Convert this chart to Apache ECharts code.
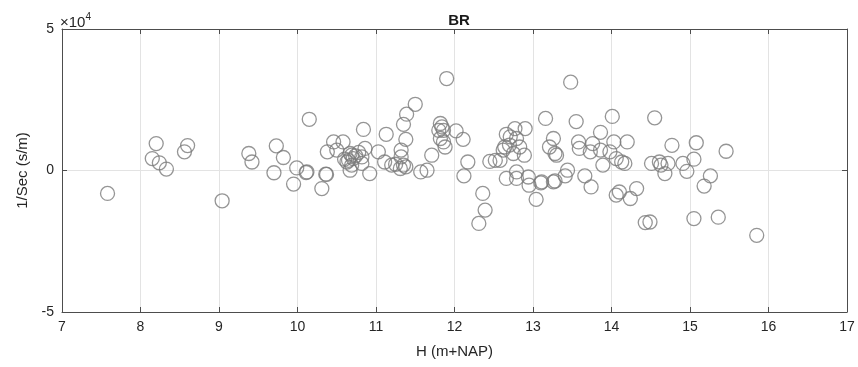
<!DOCTYPE html>
<html>
<head>
<meta charset="utf-8">
<script src="https://cdn.jsdelivr.net/npm/echarts@6/dist/echarts.min.js"></script>
<style>html,body{margin:0;padding:0;background:#fff}#c{width:858px;height:367px}</style>
</head>
<body>
<div id="c"></div>
<script>
const title = 'BR';
const xLabel = 'H (m+NAP)';
const yLabel = '1/Sec (s/m)';
const xTicks = [7, 8, 9, 10, 11, 12, 13, 14, 15, 16, 17];
const yTicks = [-50000, 0, 50000];
// H (m+NAP)
const hValues = [
  7.58, 8.20, 8.15, 8.24, 8.33, 8.60, 8.56, 9.04,
  9.38, 9.42, 9.73, 9.82, 9.70, 9.99, 10.11, 9.95, 10.36, 10.31, 10.15, 10.12,
  10.46, 10.58, 10.38, 10.50, 10.69, 10.69, 10.65, 10.84, 11.13, 11.03, 10.86, 10.67, 10.71,
  10.63, 10.82, 10.82, 10.67, 10.92, 11.11, 11.20, 10.37,
  11.50, 11.39, 11.35, 11.38, 11.32, 11.32, 11.35, 11.31, 11.38, 11.57, 11.65, 11.71,
  11.90, 11.82, 11.84, 11.80, 11.86, 11.82, 11.86, 11.88, 12.02, 12.11, 12.17, 12.12,
  12.36, 12.39, 12.31, 12.52, 12.58, 12.62, 12.66, 12.77, 12.90, 12.79, 12.71, 12.64,
  12.75, 12.89, 12.83, 12.66, 12.79, 12.79, 12.94, 12.95, 13.10, 13.04,
  13.16, 13.26, 13.21, 13.26, 13.28,
  13.48, 13.55, 14.01, 14.55, 13.86, 13.30, 13.58, 13.59, 13.76, 13.73, 13.86, 14.03,
  14.20, 13.98, 14.06, 14.13, 14.17, 13.89, 14.77, 15.08, 15.46, 14.51, 14.61, 14.72,
  14.63, 14.91, 15.05, 14.96, 14.68, 13.44, 13.41, 13.28, 13.11, 13.66, 13.74, 14.32,
  14.10, 14.06, 14.24, 15.26, 15.18, 14.43, 14.49, 15.05, 15.36, 15.85,
  10.74, 10.60, 10.78, 11.25, 12.45, 12.70
];
// 1/Sec (s/m)
const secValues = [
  -8100, 9500, 4200, 2700, 500, 8800, 6600, -10700,
  6000, 3000, 8700, 4600, -800, 900, -700, -4800, -1300, -6400, 18100, -500,
  10100, 10100, 6600, 7200, 5400, 1900, 3600, 14500, 12800, 6600, 7800, 6000, 4200,
  3000, 4800, 2500, 100, -1100, 3000, 1900, -1400,
  23400, 19900, 16300, 11000, 7200, 4800, 1900, 700, 1300, -500, 100, 5400,
  32500, 16600, 15400, 14200, 14200, 11300, 10100, 8300, 14000, 11000, 3000, -1900,
  -8100, -14000, -18700, 3600, 3600, 7200, 12800, 14800, 14800, 11300, 11900, 8300,
  6000, 5400, 8300, -2800, -500, -2800, -2300, -5200, -4400, -10200,
  18400, 11300, 8300, -4000, 6000,
  31200, 17300, 19100, 18600, 13500, 5400, 10100, 7800, 9500, 6600, 7200, 10100,
  10100, 6600, 4200, 3000, 2500, 1900, 8900, 9800, 6800, 2500, 3000, 2500,
  1900, 2500, 4000, -300, -1100, 100, -1900, -3700, -4000, -1900, -5800, -6400,
  -7600, -8700, -9900, -1900, -5500, -18400, -18200, -17000, -16500, -22900,
  5200, 4000, 6400, 2200, 3200, 9000
];

const chart = echarts.init(document.getElementById('c'), null, {renderer: 'canvas'});
const font = 'Liberation Sans';
const data = hValues.map((h, i) => [h, secValues[i]]);
const axisColor = '#4d4d4d';
const gridColor = '#e3e3e3';

chart.setOption({
  animation: false,
  backgroundColor: '#ffffff',
  title: {
    text: title, left: 454, top: 8, textAlign: 'center',
    textStyle: {fontFamily: font, fontSize: 15, fontWeight: 'bold', color: '#1a1a1a'}
  },
  grid: {left: 62, right: 11, top: 29, bottom: 55, containLabel: false},
  xAxis: [{
    type: 'value', min: 7, max: 17, interval: 1,
    name: xLabel, nameLocation: 'middle', nameGap: 32,
    nameTextStyle: {fontFamily: font, fontSize: 15, color: '#262626'},
    axisLine: {show: true, onZero: false, lineStyle: {color: axisColor, width: 1}},
    axisTick: {show: true, inside: true, length: 5, lineStyle: {color: axisColor}},
    axisLabel: {fontFamily: font, fontSize: 14, color: '#262626', margin: 8,
      formatter: v => xTicks.includes(v) ? String(v) : ''},
    splitLine: {show: true, lineStyle: {color: gridColor, width: 1}}
  }, {
    type: 'value', min: 7, max: 17, interval: 1, position: 'top',
    axisLine: {show: true, onZero: false, lineStyle: {color: axisColor, width: 1}},
    axisTick: {show: true, inside: true, length: 5, lineStyle: {color: axisColor}},
    axisLabel: {show: false}, splitLine: {show: false}
  }],
  yAxis: [{
    type: 'value', min: -50000, max: 50000, interval: 50000,
    name: yLabel, nameLocation: 'middle', nameGap: 32, nameRotate: 90,
    nameTextStyle: {fontFamily: font, fontSize: 15, color: '#262626'},
    axisLine: {show: true, onZero: false, lineStyle: {color: axisColor, width: 1}},
    axisTick: {show: true, inside: true, length: 5, lineStyle: {color: axisColor}},
    axisLabel: {fontFamily: font, fontSize: 14, color: '#262626', margin: 8,
      formatter: v => yTicks.includes(v) ? String(v / 10000) : ''},
    splitLine: {show: true, lineStyle: {color: gridColor, width: 1}}
  }, {
    type: 'value', min: -50000, max: 50000, interval: 50000, position: 'right',
    axisLine: {show: true, onZero: false, lineStyle: {color: axisColor, width: 1}},
    axisTick: {show: true, inside: true, length: 5, lineStyle: {color: axisColor}},
    axisLabel: {show: false}, splitLine: {show: false}
  }],
  graphic: [{
    type: 'text', left: 60, top: 12,
    style: {
      text: '{a|×10}{b|4}',
      rich: {
        a: {fontFamily: font, fontSize: 15, fill: '#262626', verticalAlign: 'bottom'},
        b: {fontFamily: font, fontSize: 10, fill: '#262626', verticalAlign: 'top', padding: [0, 0, 8, 0]}
      }
    }
  }],
  series: [{
    type: 'scatter',
    xAxisIndex: 0, yAxisIndex: 0,
    data: data,
    symbol: 'circle',
    symbolSize: 14,
    itemStyle: {color: 'rgba(0,0,0,0)', borderColor: '#7a7a7a', borderWidth: 1.3},
    z: 5
  }]
});
</script>
</body>
</html>
